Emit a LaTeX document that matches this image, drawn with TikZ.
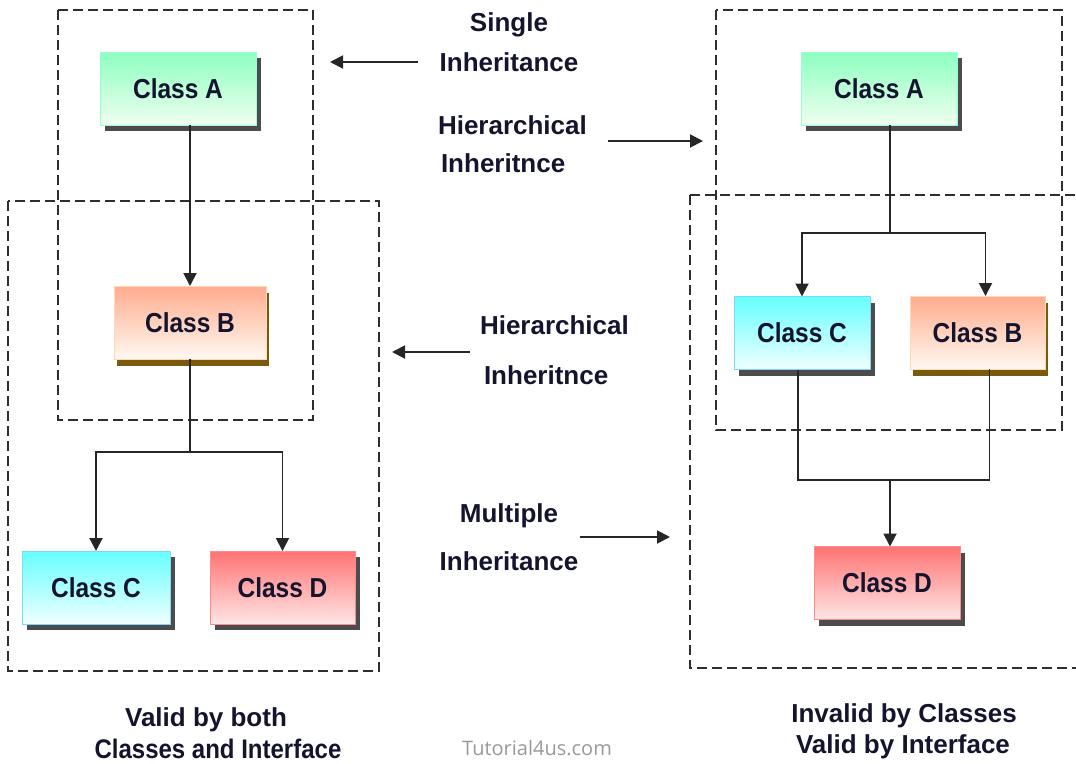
\documentclass[tikz,border=0pt]{standalone}
\usepackage{fontspec}
\usepackage{graphicx}
\setmainfont{Liberation Sans}
\newfontfamily\markfont{Open Sans}
\usetikzlibrary{arrows.meta,shadows}
\definecolor{ink}{HTML}{14142E}
\definecolor{frame}{HTML}{2E2E2E}
\definecolor{olive}{HTML}{7A5A0C}
\newcommand\tall[1]{\scalebox{1}[1.12]{#1}}
\begin{document}
\begin{tikzpicture}[x=1pt,y=-1pt,
  every node/.style={inner sep=0pt,outer sep=0pt},
  group/.style={draw=frame,line width=2pt,dash pattern=on 10pt off 5pt},
  classbox/.style={minimum width=150pt,minimum height=73pt,
    font=\fontsize{24.5}{28}\selectfont\bfseries,text=ink,line width=0.8pt},
  grayshadow/.style={drop shadow={shadow xshift=5pt,shadow yshift=-6pt,fill=black!70,opacity=1}},
  brownshadow/.style={drop shadow={shadow xshift=3pt,shadow yshift=-7pt,fill=olive,opacity=1}},
  green/.style={classbox,grayshadow,draw=green!45!cyan!40,top color=green!55!cyan!45,bottom color=green!6},
  orange/.style={classbox,brownshadow,draw=orange!30,top color=orange!55!red!45,bottom color=orange!5},
  cyan/.style={classbox,grayshadow,draw=cyan!50,top color=cyan!60,bottom color=cyan!6},
  red/.style={classbox,grayshadow,draw=red!45,top color=red!55,bottom color=red!10},
  arr/.style={line width=1.9pt,draw=black!85,-{Triangle[length=13pt,width=13pt]}},
  link/.style={line width=1.9pt,draw=black!85},
  label/.style={font=\fontsize{26}{30}\selectfont\bfseries,text=ink},
]
\useasboundingbox (0,0) rectangle (1076,763);

% grouping frames
\draw[group] (58,10) rectangle (313,420);
\draw[group] (8,201) rectangle (379,671);
\draw[group] (716,10) rectangle (1062,430);
\draw[group] (690,195) rectangle (1077,668);

% left hierarchy
\node[green,minimum width=156pt] (A1) at (178,88.5) {\tall{Class A}};
\node[orange,minimum width=152pt] (B1) at (190,322.5) {\tall{Class B}};
\node[cyan,minimum width=148pt] (C1) at (96,587.5) {\tall{Class C}};
\node[red,minimum width=145pt] (D1) at (282.5,587.5) {\tall{Class D}};

\draw[arr] (B1.north |- A1.south) -- (B1.north);
\draw[arr] (B1.south) -- ++(0,93) -| (C1.north);
\draw[arr] (B1.south) -- ++(0,93) -| (D1.north);

% right hierarchy
\node[green,minimum width=156pt] (A2) at (879,88.5) {\tall{Class A}};
\node[cyan,minimum width=136pt] (C2) at (802,333) {\tall{Class C}};
\node[orange,minimum width=135pt] (B2) at (977.5,332.5) {\tall{Class B}};
\node[red,minimum width=146pt] (D2) at (887,583) {\tall{Class D}};

\draw[arr] ([xshift=11pt]A2.south) -- ++(0,108) -| (C2.north);
\draw[arr] ([xshift=11pt]A2.south) -- ++(0,108) -| ([xshift=8pt]B2.north);
\draw[link] ([xshift=-4pt]C2.south) |- (890,480) coordinate (j2);
\draw[link] ([xshift=12pt]B2.south) |- (j2);
\draw[arr] (j2) -- (D2.north -| j2);

% side labels
\node[label] (s1) at (509,25) {Single};
\node[label] (s2) at (509,62) {Inheritance};
\coordinate (s0) at (330,62);
\draw[arr] ([xshift=-22pt]s2.west) -- (s0);

\node[label,anchor=west] (h1) at (438,125) {Hierarchical};
\node[label,anchor=west] (h2) at (441,163) {Inheritnce};
\coordinate (h0) at (703,141);
\draw[arr] (608,141) coordinate (h3) -- (h0);

\node[label,anchor=west] (k1) at (480,325) {Hierarchical};
\node[label,anchor=west] (k2) at (484,375) {Inheritnce};
\coordinate (k0) at (392,352);
\draw[arr] (470,352) coordinate (k3) -- (k0);

\node[label] (m1) at (509,516) {Multiple};
\node[label] (m2) at (509,561) {Inheritance};
\coordinate (m0) at (670,537);
\draw[arr] (580,537) coordinate (m3) -- (m0);

% captions
\node[label] (v1) at (206,720) {Valid by both};
\node[label,font=\fontsize{24}{28}\selectfont\bfseries] (v2) at (218,749) {\tall{Classes and Interface}};
\node[label] (w1) at (904,716) {Invalid by Classes};
\node[label] (w2) at (903,747) {Valid by Interface};
\node[font=\markfont\fontsize{20}{24}\selectfont,text=black!40] (tm) at (537,748) {Tutorial4us.com};
\end{tikzpicture}
\end{document}
